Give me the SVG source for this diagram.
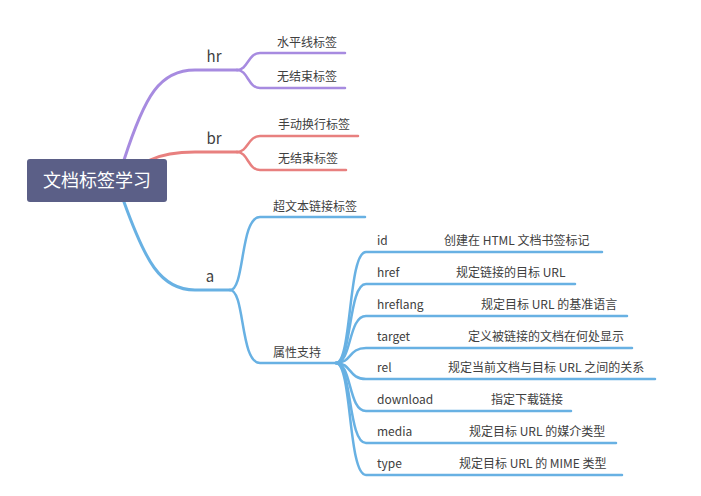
<svg xmlns="http://www.w3.org/2000/svg" width="701" height="496" viewBox="0 0 701 496">
<style>
text{font-family:"Noto Sans CJK SC","Noto Sans",sans-serif;fill:#404040;font-size:12px}
.lbl{font-size:15px}
.root{fill:#ffffff;font-size:18px}
.c{fill:none;stroke-linecap:round}
.p{stroke:#a78be0}
.r{stroke:#e8807f}
.b{stroke:#68b1e3}
.m{stroke-width:3}
.s{stroke-width:2.5}
</style>
<rect width="701" height="496" fill="#ffffff"/>
<g id="connectors">
<path class="c p m" d="M124 160 C145 95 160 70 195 70 L237 70"/>
<path class="c p s" d="M237 70 C248 70 248 53 260 53 L345 53"/>
<path class="c p s" d="M237 70 C248 70 248 88 260 88 L345 88"/>
<path class="c r m" d="M150 160 C165 153 180 152 195 152 L237 152"/>
<path class="c r s" d="M237 152 C248 152 248 136 260 136 L358 136"/>
<path class="c r s" d="M237 152 C248 152 248 170 260 170 L346 170"/>
<path class="c b m" d="M124 202 C145 260 160 290 195 290 L230 290"/>
<path class="c b s" d="M230 290 C245 290 240 217 260 217 L365 217"/>
<path class="c b s" d="M230 290 C245 290 240 363 260 363 L336 363"/>
<path class="c b s" d="M336 363 C352 363 348 252 366 252 L602 252"/>
<path class="c b s" d="M336 363 C352 363 348 284 366 284 L575 284"/>
<path class="c b s" d="M336 363 C352 363 348 316 366 316 L627 316"/>
<path class="c b s" d="M336 363 C352 363 348 348 366 348 L632 348"/>
<path class="c b s" d="M336 363 C352 363 348 379 366 379 L655 379"/>
<path class="c b s" d="M336 363 C352 363 348 411 366 411 L571 411"/>
<path class="c b s" d="M336 363 C352 363 348 443 366 443 L616 443"/>
<path class="c b s" d="M336 363 C352 363 348 475 366 475 L622 475"/>
</g>
<g id="root"><rect x="27" y="159" width="140" height="43" rx="3" fill="#5b5f87"/><text class="root" x="97" y="187" text-anchor="middle">文档标签学习</text></g>
<g id="hr"><text class="lbl" x="214" y="62" text-anchor="middle">hr</text></g>
<g id="hr1"><text x="277" y="47">水平线标签</text></g>
<g id="hr2"><text x="277" y="81">无结束标签</text></g>
<g id="br"><text class="lbl" x="214" y="144" text-anchor="middle">br</text></g>
<g id="br1"><text x="278" y="129">手动换行标签</text></g>
<g id="br2"><text x="278" y="163">无结束标签</text></g>
<g id="a"><text class="lbl" x="210" y="282" text-anchor="middle">a</text></g>
<g id="a1"><text x="273" y="211">超文本链接标签</text></g>
<g id="a2"><text x="273" y="357">属性支持</text></g>
<g id="id"><text x="377" y="245">id</text><text x="444" y="245">创建在 HTML 文档书签标记</text></g>
<g id="href"><text x="377" y="277">href</text><text x="456" y="277">规定链接的目标 URL</text></g>
<g id="hreflang"><text x="377" y="309">hreflang</text><text x="481" y="309">规定目标 URL 的基准语言</text></g>
<g id="target"><text x="377" y="341">target</text><text x="468" y="341">定义被链接的文档在何处显示</text></g>
<g id="rel"><text x="377" y="372">rel</text><text x="448" y="372">规定当前文档与目标 URL 之间的关系</text></g>
<g id="download"><text x="377" y="404">download</text><text x="491" y="404">指定下载链接</text></g>
<g id="media"><text x="377" y="436">media</text><text x="469" y="436">规定目标 URL 的媒介类型</text></g>
<g id="type"><text x="377" y="468">type</text><text x="459" y="468">规定目标 URL 的 MIME 类型</text></g>
</svg>
